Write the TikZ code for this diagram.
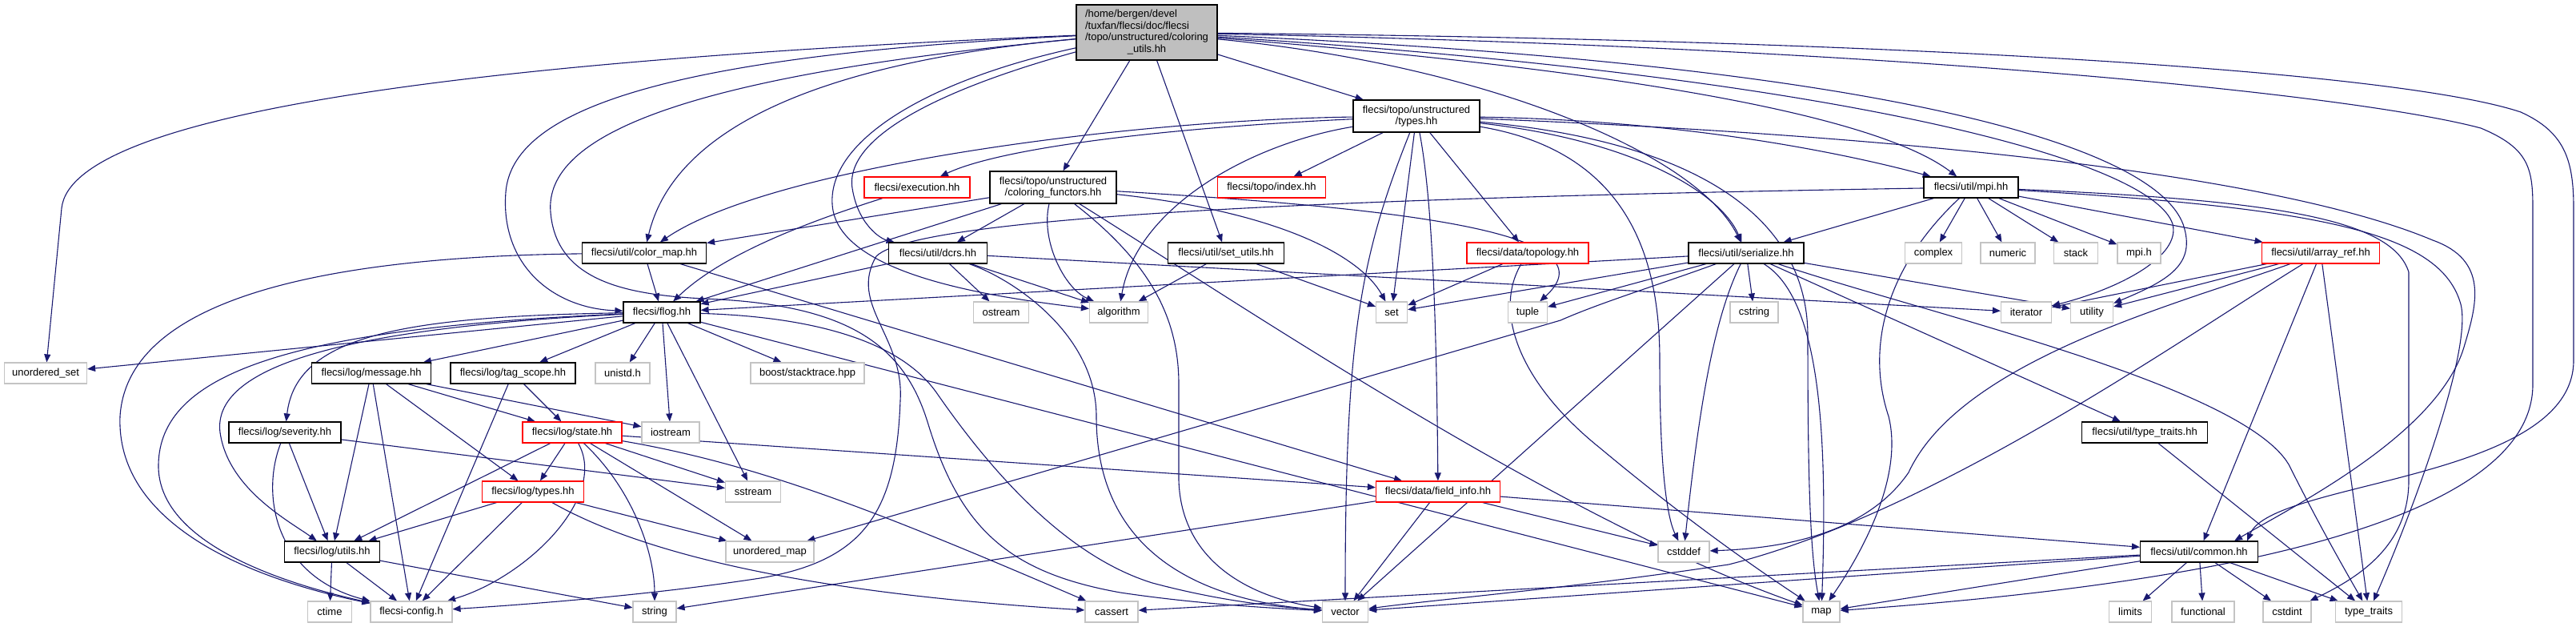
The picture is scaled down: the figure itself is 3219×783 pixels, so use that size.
\documentclass[tikz,border=0pt]{standalone}
\usepackage{fontspec}
\setmainfont{Liberation Sans}
\usepackage{tikz}
\usetikzlibrary{arrows.meta, backgrounds}
\definecolor{edgeblue}{HTML}{191970}
\definecolor{boxgray}{HTML}{BFBFBF}
\definecolor{sysgray}{HTML}{C4C4C4}
\tikzset{
	dep/.tip={Triangle[length=10pt,width=8pt]},
	file/.style={draw=black, fill=white, line width=1.2pt, inner sep=0pt,
		minimum height=26pt, font=\fontsize{13}{14.5}\selectfont},
	redfile/.style={file, draw=red},
	sysfile/.style={file, draw=sysgray},
	topfile/.style={file, fill=boxgray},
	inc/.style={edgeblue, line width=1.1pt, -dep},
}

\begin{document}
\begin{tikzpicture}[x=1pt, y=-1pt]
	\useasboundingbox (0,0) rectangle (3219,783);

	% Top file
	\node[topfile, minimum width=176pt, minimum height=69pt] (T) at (1433,40.5)
	{\begin{tabular}{@{}l@{}}/home/bergen/devel\\/tuxfan/flecsi/doc/flecsi\\/topo/unstructured/coloring\\\multicolumn{1}{@{}c@{}}{\_utils.hh}\end{tabular}};

	% Project headers
	\node[file, minimum width=158pt, minimum height=40pt, align=center] (TY) at (1770,145) {flecsi/topo/unstructured\\/types.hh};
	\node[redfile, minimum width=132pt] (EXE) at (1146,234) {flecsi/execution.hh};
	\node[file, minimum width=158pt, minimum height=40pt, align=center] (CF) at (1316,234) {flecsi/topo/unstructured\\/coloring\_functors.hh};
	\node[redfile, minimum width=135pt] (IDX) at (1589,234) {flecsi/topo/index.hh};
	\node[file, minimum width=118pt] (MPI) at (2463,234) {flecsi/util/mpi.hh};
	\node[file, minimum width=155pt] (CM) at (805,316) {flecsi/util/color\_map.hh};
	\node[file, minimum width=123pt] (DC) at (1172,316) {flecsi/util/dcrs.hh};
	\node[file, minimum width=145pt] (SU) at (1532,316) {flecsi/util/set\_utils.hh};
	\node[redfile, minimum width=152pt] (TOPO) at (1909,316) {flecsi/data/topology.hh};
	\node[file, minimum width=144pt] (SER) at (2182,316) {flecsi/util/serialize.hh};
	\node[redfile, minimum width=147pt] (AR) at (2900,316) {flecsi/util/array\_ref.hh};
	\node[file, minimum width=96pt] (FL) at (827,390) {flecsi/flog.hh};
	\node[file, minimum width=149pt] (MSG) at (464,466) {flecsi/log/message.hh};
	\node[file, minimum width=156pt] (TS) at (641,466) {flecsi/log/tag\_scope.hh};
	\node[file, minimum width=140pt] (SEV) at (356,540) {flecsi/log/severity.hh};
	\node[redfile, minimum width=124pt] (ST) at (715,540) {flecsi/log/state.hh};
	\node[file, minimum width=157pt] (UTT) at (2680,540) {flecsi/util/type\_traits.hh};
	\node[redfile, minimum width=127pt] (LT) at (666,614) {flecsi/log/types.hh};
	\node[redfile, minimum width=155pt] (FI) at (1797,614) {flecsi/data/field\_info.hh};
	\node[file, minimum width=119pt] (LU) at (415,689) {flecsi/log/utils.hh};
	\node[file, minimum width=147pt] (COM) at (2748,689) {flecsi/util/common.hh};

	% System headers
	\node[sysfile, minimum width=71pt] (CPLX) at (2416,316) {complex};
	\node[sysfile, minimum width=68pt] (NUM) at (2509,316) {numeric};
	\node[sysfile, minimum width=55pt] (STK) at (2594,316) {stack};
	\node[sysfile, minimum width=54pt] (MPIH) at (2673,316) {mpi.h};
	\node[sysfile, minimum width=69pt] (OSTR) at (1251,390) {ostream};
	\node[sysfile, minimum width=73pt] (ALG) at (1398,390) {algorithm};
	\node[sysfile, minimum width=39pt] (SET) at (1739,390) {set};
	\node[sysfile, minimum width=49pt] (TUP) at (1909,390) {tuple};
	\node[sysfile, minimum width=60pt] (CSTR) at (2192,390) {cstring};
	\node[sysfile, minimum width=63pt] (IT) at (2532,390) {iterator};
	\node[sysfile, minimum width=53pt] (UT) at (2614,390) {utility};
	\node[sysfile, minimum width=103pt] (US) at (57,466) {unordered\_set};
	\node[sysfile, minimum width=68pt] (UNI) at (778,466) {unistd.h};
	\node[sysfile, minimum width=142pt] (BOOST) at (1009,466) {boost/stacktrace.hpp};
	\node[sysfile, minimum width=72pt] (IOS) at (838,540) {iostream};
	\node[sysfile, minimum width=69pt] (SSTR) at (941,614) {sstream};
	\node[sysfile, minimum width=110pt] (UMAP) at (962,689) {unordered\_map};
	\node[sysfile, minimum width=64pt] (CSTDDEF) at (2104,689) {cstddef};
	\node[sysfile, minimum width=55pt] (CTIME) at (412,764) {ctime};
	\node[sysfile, minimum width=102pt] (CFG) at (514,764) {flecsi-config.h};
	\node[sysfile, minimum width=54pt] (STR) at (818,764) {string};
	\node[sysfile, minimum width=66pt] (CASS) at (1389,764) {cassert};
	\node[sysfile, minimum width=57pt] (VEC) at (1681,764) {vector};
	\node[sysfile, minimum width=46pt] (MAP) at (2276,764) {map};
	\node[sysfile, minimum width=53pt] (LIM) at (2662,764) {limits};
	\node[sysfile, minimum width=78pt] (FUNC) at (2753,764) {functional};
	\node[sysfile, minimum width=60pt] (CSTDINT) at (2858,764) {cstdint};
	\node[sysfile, minimum width=83pt] (TT) at (2960,764) {type\_traits};

	\begin{pgfonlayer}{background}
	% Includes of the top file
	\draw[inc] (T) .. controls (600,75) and (90,140) .. (77,260) -- (US);
	\draw[inc] (T) .. controls (820,70) and (640,140) .. (632,240) .. controls (625,330) and (690,385) .. (FL);
	\draw[inc] (T) .. controls (1000,80) and (840,170) .. (CM);
	\draw[inc] (T) .. controls (850,95) and (680,170) .. (688,265) .. controls (695,350) and (780,368) .. (880,373)
		.. controls (1060,380) and (1130,430) .. (1160,530) .. controls (1200,660) and (1260,715) .. (1400,740)
		.. controls (1500,755) and (1600,760) .. (VEC);
	\draw[inc] (T) .. controls (1180,110) and (1055,170) .. (1065,235) .. controls (1072,280) and (1100,298) .. (DC);
	\draw[inc] (T) .. controls (1160,100) and (1035,175) .. (1040,255) .. controls (1045,345) and (1250,372) .. (ALG);
	\draw[inc] (T) -- (CF);
	\draw[inc] (T) -- (SU);
	\draw[inc] (T) -- (TY);
	\draw[inc] (T) .. controls (1850,80) and (2120,190) .. (SER);
	\draw[inc] (T) .. controls (2000,85) and (2340,140) .. (MPI);
	\draw[inc] (T) .. controls (2300,95) and (2690,200) .. (2715,280) .. controls (2725,320) and (2650,360) .. (IT);
	\draw[inc] (T) .. controls (2350,80) and (2690,180) .. (2728,280) .. controls (2745,330) and (2710,350) .. (UT);
	\draw[inc] (T) .. controls (2400,60) and (2950,120) .. (3100,160) .. controls (3160,185) and (3165,210) .. (3165,260)
		-- (3165,480) .. controls (3165,620) and (2900,720) .. (MAP);
	\draw[inc] (T) .. controls (2400,50) and (3000,90) .. (3150,140) .. controls (3205,165) and (3216,200) .. (3216,260)
		-- (3216,450) .. controls (3216,600) and (2840,600) .. ([xshift=-14pt]COM.north east);

	% flecsi/topo/unstructured/types.hh
	\draw[inc] (TY) .. controls (1400,150) and (960,210) .. (CM);
	\draw[inc] (TY) .. controls (1450,160) and (1250,185) .. (EXE);
	\draw[inc] (TY) -- (IDX);
	\draw[inc] (TY) .. controls (1560,180) and (1420,260) .. (ALG);
	\draw[inc] (TY) .. controls (1700,320) and (1681,420) .. (VEC);
	\draw[inc] (TY) -- (SET);
	\draw[inc] (TY) .. controls (1790,250) and (1795,400) .. (FI);
	\draw[inc] (TY) -- (TOPO);
	\draw[inc] (TY) .. controls (2040,190) and (2074,330) .. (2074,450) .. controls (2074,600) and (2085,650) .. (CSTDDEF);
	\draw[inc] (TY) .. controls (2040,175) and (2150,240) .. (SER);
	\draw[inc] (TY) .. controls (2100,150) and (2300,190) .. (MPI);
	\draw[inc] (TY) .. controls (2100,175) and (2259,260) .. (2259,420) .. controls (2259,600) and (2262,690) .. (MAP);
	\draw[inc] (TY) .. controls (2400,170) and (2850,220) .. (3040,300) .. controls (3110,325) and (3095,380) .. (3080,430)
		.. controls (3050,540) and (2870,630) .. ([xshift=-30pt]COM.north east);

	% flecsi/topo/unstructured/coloring_functors.hh
	\draw[inc] (CF) -- (CM);
	\draw[inc] (CF) -- (FL);
	\draw[inc] (CF) -- (DC);
	\draw[inc] (CF) .. controls (1300,300) and (1330,360) .. (ALG);
	\draw[inc] (CF) .. controls (1600,265) and (1700,320) .. (SET);
	\draw[inc] (CF) .. controls (1750,260) and (2020,290) .. (TUP);
	\draw[inc] (CF) .. controls (1440,330) and (1473,400) .. (1473,480) -- (1473,600) .. controls (1476,700) and (1560,745) .. (VEC);
	\draw[inc] (CF) .. controls (1550,380) and (1950,650) .. (MAP);

	% flecsi/util/dcrs.hh, set_utils.hh, topology.hh
	\draw[inc] (DC) -- (FL);
	\draw[inc] (DC) -- (OSTR);
	\draw[inc] (DC) -- (ALG);
	\draw[inc] (DC) .. controls (1270,350) and (1370,420) .. (1370,520) .. controls (1370,690) and (1500,750) .. (VEC);
	\draw[inc] (DC) -- (IT);
	\draw[inc] (SU) -- (ALG);
	\draw[inc] (SU) -- (SET);
	\draw[inc] (TOPO) -- (SET);
	\draw[inc] (TOPO) .. controls (1865,390) and (1900,480) .. (2000,560) .. controls (2120,660) and (2210,720) .. (MAP);

	% flecsi/util/serialize.hh
	\draw[inc] (SER) -- (FL);
	\draw[inc] (SER) -- (SET);
	\draw[inc] (SER) -- (TUP);
	\draw[inc] (SER) -- (CSTR);
	\draw[inc] (SER) -- (UT);
	\draw[inc] (SER) .. controls (2060,360) and (2000,378) .. (1950,400) -- (UMAP);
	\draw[inc] (SER) -- (VEC);
	\draw[inc] (SER) .. controls (2270,370) and (2285,520) .. (MAP);
	\draw[inc] (SER) .. controls (2140,400) and (2122,520) .. (CSTDDEF);
	\draw[inc] (SER) -- (UTT);
	\draw[inc] (SER) .. controls (2400,390) and (2800,480) .. (2860,580) .. controls (2900,660) and (2935,720) .. (TT);

	% flecsi/util/mpi.hh
	\draw[inc] (MPI) -- (SER);
	\draw[inc] (MPI) -- (CPLX);
	\draw[inc] (MPI) -- (NUM);
	\draw[inc] (MPI) -- (STK);
	\draw[inc] (MPI) -- (MPIH);
	\draw[inc] (MPI) -- (AR);
	\draw[inc] (MPI) .. controls (2360,330) and (2330,430) .. (2360,520) .. controls (2380,600) and (2320,700) .. (MAP);
	\draw[inc] (MPI) .. controls (1800,245) and (1150,265) .. (1095,320) .. controls (1060,380) and (1130,420) .. (1125,500)
		.. controls (1120,640) and (1080,700) .. (950,722) .. controls (800,745) and (640,756) .. (CFG);
	\draw[inc] (MPI) .. controls (2850,250) and (2990,275) .. (3010,340) -- (3010,600) .. controls (3010,680) and (2950,720) .. (CSTDINT);
	\draw[inc] (MPI) .. controls (2900,260) and (3050,290) .. (3075,380) .. controls (3090,440) and (3010,650) .. (TT);

	% flecsi/util/array_ref.hh, common.hh, field_info.hh
	\draw[inc] (AR) -- (IT);
	\draw[inc] (AR) -- (UT);
	\draw[inc] (AR) -- (COM);
	\draw[inc] (AR) -- (TT);
	\draw[inc] (AR) .. controls (2720,380) and (2450,450) .. (2385,590) .. controls (2330,670) and (2220,685) .. (CSTDDEF);
	\draw[inc] (AR) .. controls (2730,420) and (2420,640) .. (2160,705) .. controls (1960,735) and (1800,748) .. (VEC);
	\draw[inc] (COM) -- (CASS);
	\draw[inc] (COM) -- (VEC);
	\draw[inc] (COM) -- (MAP);
	\draw[inc] (COM) -- (LIM);
	\draw[inc] (COM) -- (FUNC);
	\draw[inc] (COM) -- (CSTDINT);
	\draw[inc] (COM) -- (TT);
	\draw[inc] (FI) -- (STR);
	\draw[inc] (FI) -- (VEC);
	\draw[inc] (FI) -- (CSTDDEF);
	\draw[inc] (FI) -- (COM);
	\draw[inc] (UTT) -- (TT);

	% flecsi/execution.hh, color_map.hh
	\draw[inc] (EXE) .. controls (1000,280) and (900,320) .. (FL);
	\draw[inc] (CM) -- (FL);
	\draw[inc] (CM) -- (FI);
	\draw[inc] (CM) .. controls (450,320) and (160,360) .. (150,520) .. controls (145,650) and (300,720) .. (CFG);

	% flecsi/flog.hh
	\draw[inc] (FL) -- (US);
	\draw[inc] (FL) -- (MSG);
	\draw[inc] (FL) -- (TS);
	\draw[inc] (FL) -- (UNI);
	\draw[inc] (FL) -- (BOOST);
	\draw[inc] (FL) -- (IOS);
	\draw[inc] (FL) -- (SSTR);
	\draw[inc] (FL) -- (MAP);
	\draw[inc] (FL) .. controls (500,395) and (370,420) .. (SEV);
	\draw[inc] (FL) .. controls (420,410) and (265,460) .. (275,540) .. controls (285,610) and (360,650) .. (LU);
	\draw[inc] (FL) .. controls (350,410) and (200,470) .. (198,580) .. controls (196,680) and (360,730) .. (CFG);
	\draw[inc] (FL) .. controls (1000,395) and (1120,420) .. (1170,490) .. controls (1260,620) and (1350,700) .. (1440,728)
		.. controls (1530,752) and (1600,758) .. (VEC);

	% Log headers
	\draw[inc] (MSG) -- (LU);
	\draw[inc] (MSG) -- (CFG);
	\draw[inc] (MSG) -- (LT);
	\draw[inc] (MSG) -- (ST);
	\draw[inc] (MSG) -- (IOS);
	\draw[inc] (TS) -- (ST);
	\draw[inc] (TS) -- (CFG);
	\draw[inc] (SEV) -- (LU);
	\draw[inc] (SEV) -- (SSTR);
	\draw[inc] (SEV) .. controls (325,620) and (345,720) .. (CFG);
	\draw[inc] (ST) -- (LU);
	\draw[inc] (ST) -- (LT);
	\draw[inc] (ST) -- (UMAP);
	\draw[inc] (ST) -- (SSTR);
	\draw[inc] (ST) -- (FI);
	\draw[inc] (ST) .. controls (760,620) and (660,720) .. (CFG);
	\draw[inc] (ST) .. controls (790,610) and (818,690) .. (STR);
	\draw[inc] (ST) .. controls (950,580) and (1100,640) .. (CASS);
	\draw[inc] (LT) -- (LU);
	\draw[inc] (LT) -- (CFG);
	\draw[inc] (LT) -- (UMAP);
	\draw[inc] (LT) .. controls (800,690) and (1000,740) .. (CASS);
	\draw[inc] (LU) -- (CTIME);
	\draw[inc] (LU) -- (CFG);
	\draw[inc] (LU) -- (STR);
	\end{pgfonlayer}
\end{tikzpicture}
\end{document}
